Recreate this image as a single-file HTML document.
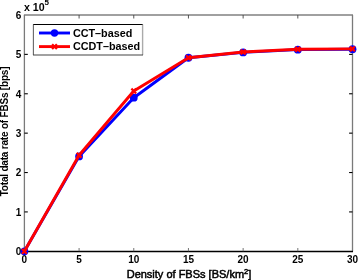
<!DOCTYPE html>
<html><head><meta charset="utf-8"><style>
html,body{margin:0;padding:0;background:#fff;}
body{width:358px;height:280px;overflow:hidden;}
svg{display:block;font-family:"Liberation Sans",sans-serif;fill:#000;filter:blur(0.3px);}
</style></head><body>
<svg width="358" height="280" viewBox="0 0 358 280">
<rect width="358" height="280" fill="#fff"/>
<line x1="23.9" y1="15.0" x2="353.0" y2="15.0" stroke="#808080" stroke-width="1.6"/>
<line x1="24.4" y1="15.0" x2="24.4" y2="251.3" stroke="#7a7a7a" stroke-width="1.3"/>
<line x1="352.5" y1="15.0" x2="352.5" y2="251.3" stroke="#7a7a7a" stroke-width="1.3"/>
<line x1="23.9" y1="251.45000000000002" x2="353.0" y2="251.45000000000002" stroke="#000" stroke-width="1.4"/>
<line x1="79.08" y1="251.3" x2="79.08" y2="248.0" stroke="#666" stroke-width="0.9"/>
<line x1="79.08" y1="15.0" x2="79.08" y2="18.5" stroke="#444" stroke-width="0.9"/>
<line x1="133.77" y1="251.3" x2="133.77" y2="248.0" stroke="#666" stroke-width="0.9"/>
<line x1="133.77" y1="15.0" x2="133.77" y2="18.5" stroke="#444" stroke-width="0.9"/>
<line x1="188.45" y1="251.3" x2="188.45" y2="248.0" stroke="#666" stroke-width="0.9"/>
<line x1="188.45" y1="15.0" x2="188.45" y2="18.5" stroke="#444" stroke-width="0.9"/>
<line x1="243.13" y1="251.3" x2="243.13" y2="248.0" stroke="#666" stroke-width="0.9"/>
<line x1="243.13" y1="15.0" x2="243.13" y2="18.5" stroke="#444" stroke-width="0.9"/>
<line x1="297.82" y1="251.3" x2="297.82" y2="248.0" stroke="#666" stroke-width="0.9"/>
<line x1="297.82" y1="15.0" x2="297.82" y2="18.5" stroke="#444" stroke-width="0.9"/>
<line x1="24.4" y1="211.92" x2="27.799999999999997" y2="211.92" stroke="#000" stroke-width="1.1"/>
<line x1="352.5" y1="211.92" x2="349.1" y2="211.92" stroke="#000" stroke-width="1.1"/>
<line x1="24.4" y1="172.53" x2="27.799999999999997" y2="172.53" stroke="#000" stroke-width="1.1"/>
<line x1="352.5" y1="172.53" x2="349.1" y2="172.53" stroke="#000" stroke-width="1.1"/>
<line x1="24.4" y1="133.15" x2="27.799999999999997" y2="133.15" stroke="#000" stroke-width="1.1"/>
<line x1="352.5" y1="133.15" x2="349.1" y2="133.15" stroke="#000" stroke-width="1.1"/>
<line x1="24.4" y1="93.77" x2="27.799999999999997" y2="93.77" stroke="#000" stroke-width="1.1"/>
<line x1="352.5" y1="93.77" x2="349.1" y2="93.77" stroke="#000" stroke-width="1.1"/>
<line x1="24.4" y1="54.38" x2="27.799999999999997" y2="54.38" stroke="#000" stroke-width="1.1"/>
<line x1="352.5" y1="54.38" x2="349.1" y2="54.38" stroke="#000" stroke-width="1.1"/>
<text x="24.40" y="263.4" text-anchor="middle" font-size="10" font-weight="bold">0</text>
<text x="79.08" y="263.4" text-anchor="middle" font-size="10" font-weight="bold">5</text>
<text x="133.77" y="263.4" text-anchor="middle" font-size="10" font-weight="bold">10</text>
<text x="188.45" y="263.4" text-anchor="middle" font-size="10" font-weight="bold">15</text>
<text x="243.13" y="263.4" text-anchor="middle" font-size="10" font-weight="bold">20</text>
<text x="297.82" y="263.4" text-anchor="middle" font-size="10" font-weight="bold">25</text>
<text x="352.50" y="263.4" text-anchor="middle" font-size="10" font-weight="bold">30</text>
<text x="21.3" y="255.20" text-anchor="end" font-size="10" font-weight="bold">0</text>
<text x="21.3" y="215.82" text-anchor="end" font-size="10" font-weight="bold">1</text>
<text x="21.3" y="176.43" text-anchor="end" font-size="10" font-weight="bold">2</text>
<text x="21.3" y="137.05" text-anchor="end" font-size="10" font-weight="bold">3</text>
<text x="21.3" y="97.67" text-anchor="end" font-size="10" font-weight="bold">4</text>
<text x="21.3" y="58.28" text-anchor="end" font-size="10" font-weight="bold">5</text>
<text x="21.3" y="18.90" text-anchor="end" font-size="10" font-weight="bold">6</text>
<text x="24" y="11.3" font-size="10.6" font-weight="bold">x 10</text>
<text x="44.4" y="4.6" font-size="8" font-weight="bold">5</text>
<text x="189" y="278" text-anchor="middle" font-size="11" stroke="#000" stroke-width="0.5">Density of FBSs [BS/km<tspan font-size="7.5" dy="-4.2">2</tspan><tspan dy="4.2">]</tspan></text>
<text transform="translate(8.4,131.5) rotate(-90)" text-anchor="middle" font-size="10" font-weight="bold" letter-spacing="-0.2">Total data rate of FBSs [bps]</text>
<polyline points="24.40,251.30 79.08,156.39 133.77,97.71 188.45,57.73 243.13,52.41 297.82,49.66 352.50,49.26" fill="none" stroke="#0000ff" stroke-width="2.9" stroke-linejoin="round"/>
<circle cx="24.40" cy="251.30" r="3.9" fill="#0000ff"/>
<circle cx="79.08" cy="156.39" r="3.9" fill="#0000ff"/>
<circle cx="133.77" cy="97.71" r="3.9" fill="#0000ff"/>
<circle cx="188.45" cy="57.73" r="3.9" fill="#0000ff"/>
<circle cx="243.13" cy="52.41" r="3.9" fill="#0000ff"/>
<circle cx="297.82" cy="49.66" r="3.9" fill="#0000ff"/>
<circle cx="352.50" cy="49.26" r="3.9" fill="#0000ff"/>
<polyline points="24.40,251.30 79.08,155.20 133.77,91.01 188.45,57.73 243.13,52.02 297.82,49.26 352.50,48.87" fill="none" stroke="#ff0000" stroke-width="2.9" stroke-linejoin="round"/>
<path d="M22.00,248.90L26.80,253.70M22.00,253.70L26.80,248.90" stroke="#ff0000" stroke-width="2.2"/>
<path d="M76.68,152.80L81.48,157.60M76.68,157.60L81.48,152.80" stroke="#ff0000" stroke-width="2.2"/>
<path d="M131.37,88.61L136.17,93.41M131.37,93.41L136.17,88.61" stroke="#ff0000" stroke-width="2.2"/>
<path d="M186.05,55.33L190.85,60.13M186.05,60.13L190.85,55.33" stroke="#ff0000" stroke-width="2.2"/>
<path d="M240.73,49.62L245.53,54.42M240.73,54.42L245.53,49.62" stroke="#ff0000" stroke-width="2.2"/>
<path d="M295.42,46.86L300.22,51.66M295.42,51.66L300.22,46.86" stroke="#ff0000" stroke-width="2.2"/>
<path d="M350.10,46.47L354.90,51.27M350.10,51.27L354.90,46.47" stroke="#ff0000" stroke-width="2.2"/>
<rect x="33.4" y="24.5" width="109.2" height="30.5" fill="#fff"/>
<line x1="33" y1="24.5" x2="143" y2="24.5" stroke="#000" stroke-width="1"/>
<line x1="33.4" y1="24.5" x2="33.4" y2="55" stroke="#666" stroke-width="1.1"/>
<line x1="142.6" y1="24.5" x2="142.6" y2="55" stroke="#aaa" stroke-width="1.4"/>
<line x1="33" y1="55" x2="143" y2="55" stroke="#444" stroke-width="1.2"/>
<line x1="39" y1="33.0" x2="70" y2="33.0" stroke="#0000ff" stroke-width="2.9"/>
<circle cx="54.5" cy="33.0" r="3.7" fill="#0000ff"/>
<line x1="39" y1="46.6" x2="70" y2="46.6" stroke="#ff0000" stroke-width="2.9"/>
<path d="M52.10,44.20L56.90,49.00M52.10,49.00L56.90,44.20" stroke="#ff0000" stroke-width="2.2"/>
<text x="72.9" y="36.8" font-size="10.8" font-weight="bold">CCT–based</text>
<text x="72.9" y="50.4" font-size="10.8" font-weight="bold">CCDT–based</text>
</svg>
</body></html>
